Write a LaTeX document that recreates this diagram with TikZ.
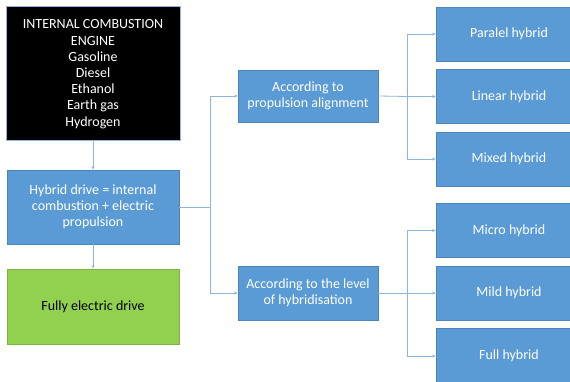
\documentclass[tikz,border=0pt]{standalone}
\usepackage{fontspec}
\setmainfont{Carlito}
\usetikzlibrary{arrows.meta}
\definecolor{boxblue}{HTML}{5B9BD5}
\definecolor{boxedge}{HTML}{4A84BA}
\definecolor{boxgreen}{HTML}{92D050}
\definecolor{greenedge}{HTML}{7FB23F}
\definecolor{linkblue}{HTML}{8DB5DC}
\tikzset{
  base/.style={draw, line width=0.8pt, align=center, inner sep=2pt,
    font=\fontsize{14}{16.2}\selectfont},
  bluebox/.style={base, fill=boxblue, draw=boxedge, text=white},
  enginebox/.style={base, fill=black, draw=boxedge!60, text=white},
  greenbox/.style={base, fill=boxgreen, draw=greenedge, text=black},
  conn/.style={draw=linkblue, line width=0.8pt},
  arr/.style={conn, -{Stealth[length=3.5pt,width=3pt]}}
}
\begin{document}
\begin{tikzpicture}[x=1pt,y=-1pt]
\useasboundingbox (0,0) rectangle (570,382);
\fill[white] (0,0) rectangle (570,382);
\clip (0,0) rectangle (570,382);

% left column
\node[enginebox, minimum width=174, minimum height=134] (ice) at (93,73)
  {\strut INTERNAL COMBUSTION\\ENGINE\\Gasoline\\Diesel\\Ethanol\\Earth gas\\Hydrogen};
\node[bluebox, minimum width=172, minimum height=74] (hyb) at (93,207)
  {Hybrid drive = internal\\combustion + electric\\propulsion};
\node[greenbox, minimum width=172, minimum height=75] (full) at (93,306.5)
  {Fully electric drive};

% classification
\node[bluebox, minimum width=140, minimum height=52] (prop) at (308,96)
  {According to\\propulsion alignment};
\node[bluebox, minimum width=140, minimum height=54] (lev) at (308,293)
  {According to the level\\of hybridisation};

% hybrid types
\node[bluebox, minimum width=146, minimum height=54] (par) at (509,34) {Paralel hybrid};
\node[bluebox, minimum width=146, minimum height=54] (lin) at (509,96.5) {Linear hybrid};
\node[bluebox, minimum width=146, minimum height=54] (mix) at (509,159) {Mixed hybrid};
\node[bluebox, minimum width=146, minimum height=54] (mic) at (509,230.5) {Micro hybrid};
\node[bluebox, minimum width=146, minimum height=54] (mil) at (509,293) {Mild hybrid};
\node[bluebox, minimum width=146, minimum height=56] (ful) at (509,356) {Full hybrid};

% connectors
\draw[arr] (ice) -- (hyb);
\draw[arr] (hyb) -- (full);

\coordinate (s1) at (210,207);
\draw[conn] (hyb.east) -- (s1);
\draw[arr] (s1) |- (prop.west);
\draw[arr] (s1) |- (lev.west);

\coordinate (s2) at (407,96.5);
\draw[conn] (prop.east) -- (s2);
\draw[arr] (s2) |- (par.west);
\draw[arr] (s2) -- (lin.west);
\draw[arr] (s2) |- (mix.west);

\coordinate (s3) at (407,293);
\draw[conn] (lev.east) -- (s3);
\draw[arr] (s3) |- (mic.west);
\draw[arr] (s3) -- (mil.west);
\draw[arr] (s3) |- (ful.west);
\end{tikzpicture}
\end{document}
